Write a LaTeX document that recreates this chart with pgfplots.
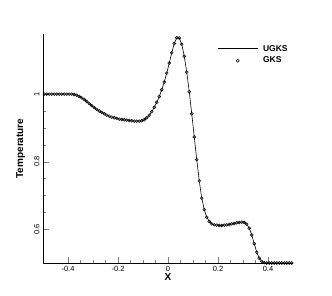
\documentclass[border=0pt]{standalone}
\usepackage{fontspec}
\setmainfont{Liberation Sans}
\usepackage{pgfplots}
\pgfplotsset{compat=1.18}
\pgfplotsset{
  ugksleg/.style={legend image code/.code={\draw[##1] (0pt,0pt) -- (40pt,0pt);}},
  gksleg/.style={legend image code/.code={\draw[mark repeat=2,mark phase=2,##1] plot coordinates {(0pt,0pt) (20pt,0pt) (40pt,0pt)};}},
}
\begin{document}
\begin{tikzpicture}
\pgfplotstableread{
x y
-0.495 1.000
-0.485 1.000
-0.475 1.000
-0.465 1.000
-0.455 1.000
-0.445 1.000
-0.435 1.000
-0.425 1.000
-0.415 1.000
-0.405 1.000
-0.395 1.000
-0.385 1.000
-0.375 0.999
-0.365 0.997
-0.355 0.993
-0.345 0.989
-0.335 0.984
-0.325 0.978
-0.315 0.972
-0.305 0.966
-0.295 0.960
-0.285 0.955
-0.275 0.950
-0.265 0.946
-0.255 0.942
-0.245 0.938
-0.235 0.935
-0.225 0.932
-0.215 0.930
-0.205 0.928
-0.195 0.926
-0.185 0.925
-0.175 0.924
-0.165 0.923
-0.155 0.922
-0.145 0.921
-0.135 0.920
-0.125 0.920
-0.115 0.920
-0.105 0.921
-0.095 0.924
-0.085 0.930
-0.075 0.938
-0.065 0.948
-0.055 0.961
-0.045 0.976
-0.035 0.993
-0.025 1.013
-0.015 1.036
-0.005 1.062
0.005 1.092
0.015 1.122
0.025 1.150
0.035 1.167
0.045 1.166
0.055 1.148
0.065 1.112
0.075 1.065
0.085 1.007
0.095 0.942
0.105 0.873
0.115 0.806
0.125 0.743
0.135 0.692
0.145 0.658
0.155 0.636
0.165 0.623
0.175 0.616
0.185 0.613
0.195 0.612
0.205 0.611
0.215 0.611
0.225 0.612
0.235 0.613
0.245 0.614
0.255 0.616
0.265 0.617
0.275 0.619
0.285 0.620
0.295 0.621
0.305 0.620
0.315 0.615
0.325 0.603
0.335 0.583
0.345 0.557
0.355 0.532
0.365 0.514
0.375 0.505
0.385 0.501
0.395 0.500
0.405 0.500
0.415 0.500
0.425 0.500
0.435 0.500
0.445 0.500
0.455 0.500
0.465 0.500
0.475 0.500
0.485 0.500
0.495 0.500
}\gks
\begin{axis}[
  scale only axis, width=250pt, height=229pt,
  xmin=-0.5, xmax=0.5, ymin=0.5, ymax=1.178,
  axis x line*=bottom, axis y line*=left,
  tick align=inside,
  major tick length=6pt, minor tick length=3pt,
  xtick={-0.4,-0.2,0,0.2,0.4},
  xticklabels={-0.4,-0.2,0,0.2,0.4},
  ytick={0.6,0.8,1},
  yticklabels={0.6,0.8,1},
  minor x tick num=3, minor y tick num=3,
  tick label style={font=\fontsize{7.5}{8}\selectfont},
  yticklabel style={rotate=90, anchor=south},
  /pgf/number format/assume math mode=true,
  xlabel={\textbf{X}}, ylabel={\textbf{Temperature}},
  xlabel style={font=\fontsize{10}{10}\selectfont, yshift=5pt},
  ylabel style={font=\fontsize{10}{10}\selectfont, yshift=2pt},
  legend style={draw=none, fill=none, at={(0.685,0.97)}, anchor=north west,
    font=\bfseries\fontsize{8.5}{9}\selectfont, row sep=0.5pt, column sep=3pt, cells={anchor=west}},
  every axis plot/.append style={line width=0.6pt},
]
\addplot[black, no marks, ugksleg] table {\gks};
\addlegendentry{UGKS}
\addplot[black, only marks, mark=o, mark size=1.45pt, mark options={line width=0.5pt}, gksleg] table {\gks};
\addlegendentry{GKS}
\end{axis}
\path[use as bounding box] ([xshift=-43pt,yshift=-33pt]current axis.south west) rectangle ([xshift=39pt,yshift=34pt]current axis.north east);
\end{tikzpicture}
\end{document}
